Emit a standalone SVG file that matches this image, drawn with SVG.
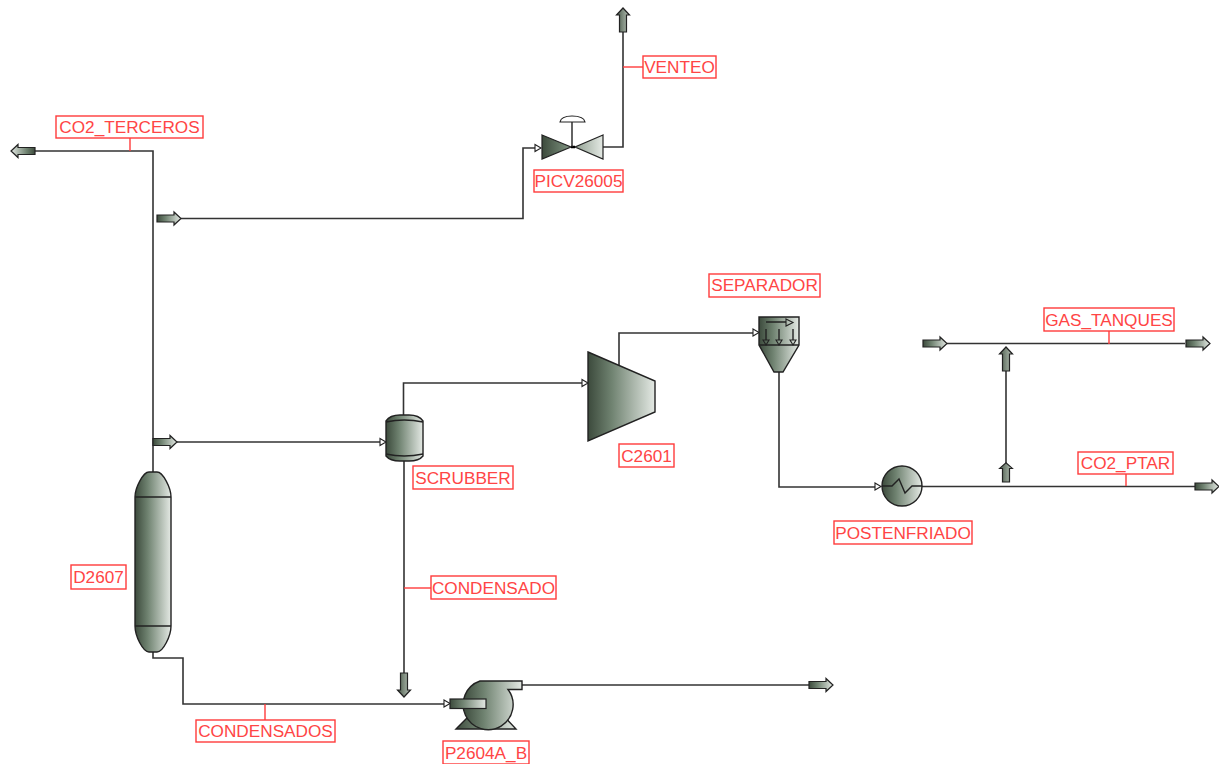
<svg xmlns="http://www.w3.org/2000/svg" width="1219" height="764" viewBox="0 0 1219 764">
<style>
.c{fill:none;stroke:#333;stroke-width:1.6}
.lb{fill:#fff;stroke:#ff3b3b;stroke-width:1.4}
.ld{fill:none;stroke:#ff3b3b;stroke-width:1.4}
.t{font-family:"Liberation Sans",Arial,sans-serif;font-size:17.2px;fill:#ff4545;text-anchor:middle}
.e{fill:url(#g);stroke:#222;stroke-width:1.4}
.eo{fill:none;stroke:#222;stroke-width:1.4}
.s{fill:url(#g);stroke:#222;stroke-width:1.2}
.sv{fill:url(#gv);stroke:#222;stroke-width:1.2}
.svr{fill:url(#gvr);stroke:#222;stroke-width:1.2}
.h{fill:#fff;stroke:#222;stroke-width:1.1}
</style>
<defs>
<linearGradient id="g" x1="0" x2="1" y1="0" y2="0"><stop offset="0" stop-color="#3c4a3c"/><stop offset=".35" stop-color="#6f8270"/><stop offset="1" stop-color="#e4e9e4"/></linearGradient>
<linearGradient id="gvalve" gradientUnits="userSpaceOnUse" x1="542" x2="603" y1="0" y2="0"><stop offset="0" stop-color="#3c4a3c"/><stop offset=".35" stop-color="#6f8270"/><stop offset="1" stop-color="#e4e9e4"/></linearGradient>
<linearGradient id="gv" x1="0" x2="0" y1="0" y2="1"><stop offset="0" stop-color="#4a5a4a"/><stop offset="1" stop-color="#b8c3b8"/></linearGradient>
<linearGradient id="gvr" x1="0" x2="0" y1="1" y2="0"><stop offset="0" stop-color="#4a5a4a"/><stop offset="1" stop-color="#b8c3b8"/></linearGradient>
<path id="ar" d="M0-3.500H17V-6.500L24 0L17 6.500V3.500H0Z"/>
<path id="sh" d="M0-3.500L6 0L0 3.500Z"/>
</defs>
<g id="connectors">
<path class="c" d="M34 151H153V472"/>
<path class="c" d="M181 218.500H523V148H536"/>
<path class="c" d="M603 147H623V32"/>
<path class="c" d="M177 442H381"/>
<path class="c" d="M403.500 415V383H583"/>
<path class="c" d="M619 366V333H753"/>
<path class="c" d="M779 372V487H876"/>
<path class="c" d="M922 486.500H1196"/>
<path class="c" d="M1006 463V371"/>
<path class="c" d="M947 343.500H1185"/>
<path class="c" d="M404 461V673"/>
<path class="c" d="M153 652V658H183V704H444"/>
<path class="c" d="M522 685H810"/>
<use href="#sh" class="h" transform="translate(535 148)"/>
<use href="#sh" class="h" transform="translate(380 442)"/>
<use href="#sh" class="h" transform="translate(582 383)"/>
<use href="#sh" class="h" transform="translate(753 332.500)"/>
<use href="#sh" class="h" transform="translate(875 486.500)"/>
<use href="#sh" class="h" transform="translate(444 703.500)"/>
</g>
<g id="s-co2-terceros-out"><use href="#ar" class="s" transform="translate(35 151) rotate(180)"/></g>
<g id="s-venteo-in"><use href="#ar" class="s" transform="translate(157 218.500)"/></g>
<g id="s-scrubber-in"><use href="#ar" class="s" transform="translate(153 442)"/></g>
<g id="s-venteo-out"><use href="#ar" class="sv" transform="translate(623 32) rotate(-90)"/></g>
<g id="s-gas-in"><use href="#ar" class="s" transform="translate(923 343.500)"/></g>
<g id="s-gas-out"><use href="#ar" class="s" transform="translate(1186 343.500)"/></g>
<g id="s-gas-side-in"><use href="#ar" class="sv" transform="translate(1006 371) rotate(-90)"/></g>
<g id="s-ptar-side-out"><use href="#ar" class="sv" transform="translate(1006 482) rotate(-90) scale(.8 1)"/></g>
<g id="s-ptar-out"><use href="#ar" class="s" transform="translate(1195 486.500)"/></g>
<g id="s-condensado-out"><use href="#ar" class="svr" transform="translate(404 673) rotate(90)"/></g>
<g id="s-pump-out"><use href="#ar" class="s" transform="translate(809 685)"/></g>
<g id="PICV26005">
<path d="M542 135L571 147L542 159Z" style="fill:url(#gvalve);stroke:#222;stroke-width:1.2"/>
<path d="M603 135L575 147L603 159Z" style="fill:url(#gvalve);stroke:#222;stroke-width:1.2"/>
<path d="M571 147H575" stroke="#000" stroke-width="2.500"/>
<path class="eo" d="M572 147V122"/>
<path d="M560 122Q561 116 572 116Q584 116 585 122Z" fill="#fff" stroke="#222" stroke-width="1.2"/>
<rect class="lb" x="534" y="170" width="89" height="22"/><text class="t" x="578.500" y="187">PICV26005</text>
</g>
<g id="VENTEO"><path class="ld" d="M623 67H643"/><rect class="lb" x="643" y="56" width="73" height="22"/><text class="t" x="679.500" y="73">VENTEO</text></g>
<g id="CO2_TERCEROS"><path class="ld" d="M130 138V151"/><rect class="lb" x="56" y="116" width="147" height="22"/><text class="t" x="129.500" y="133">CO2_TERCEROS</text></g>
<g id="D2607">
<path class="e" d="M135 497C135 488 143 472 149 472H157C163 472 171 488 171 497V626C171 636 163 652 157 652H149C143 652 135 636 135 626Z"/>
<path class="eo" d="M135 497H171M135 626H171"/>
<rect class="lb" x="71" y="565" width="55" height="24"/><text class="t" x="98.500" y="583">D2607</text>
</g>
<g id="SCRUBBER">
<path class="e" d="M386 421Q390 415 400 415H409Q419 415 423 421V456Q419 461 409 461H400Q390 461 386 456Z"/>
<path class="eo" d="M386 422Q404 418 423 422M386 454Q404 458 423 454"/>
<rect class="lb" x="413" y="466" width="100" height="23"/><text class="t" x="463" y="483.500">SCRUBBER</text>
</g>
<g id="C2601">
<path class="e" d="M588 352L655 381V412L588 441Z"/>
<rect class="lb" x="619" y="444" width="55" height="23"/><text class="t" x="646.500" y="461.500">C2601</text>
</g>
<g id="SEPARADOR">
<path class="e" d="M759 317H799V345L783 372H774L759 345Z"/>
<path class="eo" d="M759 345H799"/>
<path class="eo" d="M766 322H786M766 329V340M779 329V340M793 329V340" stroke-width="1.100"/>
<path d="M786 319L793 322.500L786 326ZM763 340H769L766 345ZM776 340H782L779 345ZM790 340H796L793 345Z" fill="none" stroke="#222" stroke-width="1.100"/>
<rect class="lb" x="709" y="274" width="111" height="23"/><text class="t" x="764.500" y="291">SEPARADOR</text>
</g>
<g id="POSTENFRIADO">
<circle class="e" cx="902" cy="486" r="20"/>
<path class="eo" d="M882 486H892L899 479L905 493L912 486H922"/>
<rect class="lb" x="834" y="521" width="138" height="23"/><text class="t" x="903" y="538.500">POSTENFRIADO</text>
</g>
<g id="GAS_TANQUES"><path class="ld" d="M1109 331V344"/><rect class="lb" x="1044" y="308" width="130" height="23"/><text class="t" x="1109" y="325.500">GAS_TANQUES</text></g>
<g id="CO2_PTAR"><path class="ld" d="M1126 474V486"/><rect class="lb" x="1078" y="452" width="95" height="22"/><text class="t" x="1125.500" y="469">CO2_PTAR</text></g>
<g id="CONDENSADO"><path class="ld" d="M404 588H431"/><rect class="lb" x="431" y="576" width="125" height="23"/><text class="t" x="493.500" y="593.500">CONDENSADO</text></g>
<g id="CONDENSADOS"><path class="ld" d="M265 704V720"/><rect class="lb" x="196" y="720" width="139" height="22"/><text class="t" x="265.500" y="736.500">CONDENSADOS</text></g>
<g id="P2604A_B">
<path class="e" d="M456 729L473 712H500L516 729Z"/>
<path class="e" d="M480 681H522V689.500H508A25 25 0 1 1 480 681Z"/>
<rect x="450" y="699" width="36" height="9.500" style="fill:url(#g);stroke:#222;stroke-width:1.2"/>
<rect class="lb" x="443" y="741" width="86" height="23"/><text class="t" x="486" y="759">P2604A_B</text>
</g>
</svg>
